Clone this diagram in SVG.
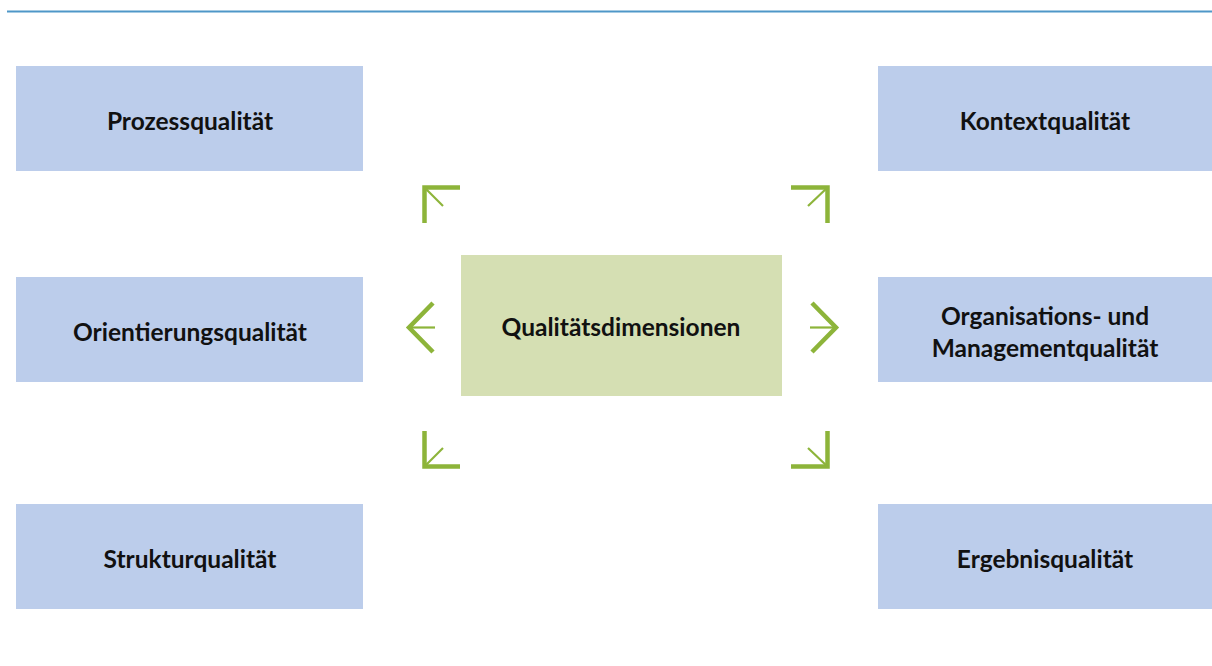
<svg xmlns="http://www.w3.org/2000/svg" width="1212" height="666" viewBox="0 0 1212 666">
<style>
.box{fill:#bccdeb}
.center{fill:#d5dfb3}
.t{font-family:Lato,"Liberation Sans",sans-serif;font-weight:bold;font-size:24.5px;fill:#111;text-anchor:middle}
.arm{fill:none;stroke:#8db43a;stroke-width:4.5;stroke-linecap:butt;stroke-linejoin:miter}
.thin{fill:none;stroke:#8db43a;stroke-width:2.2}
</style>
<rect width="1212" height="666" fill="#fff"/>
<line x1="7" y1="11.5" x2="1212" y2="11.5" stroke="#4f97c8" stroke-width="2"/>
<g id="n-prozess"><rect class="box" x="16" y="66" width="347" height="105"/><text class="t" x="190" y="129.5">Prozessqualität</text></g>
<g id="n-orientierung"><rect class="box" x="16" y="277" width="347" height="105"/><text class="t" x="190" y="340.5">Orientierungsqualität</text></g>
<g id="n-struktur"><rect class="box" x="16" y="504" width="347" height="105"/><text class="t" x="190" y="567.5">Strukturqualität</text></g>
<g id="n-kontext"><rect class="box" x="878" y="66" width="334" height="105"/><text class="t" x="1045" y="129.5">Kontextqualität</text></g>
<g id="n-organisation"><rect class="box" x="878" y="277" width="334" height="105"/><text class="t" x="1045" y="324.5">Organisations- und</text><text class="t" x="1045" y="356.5">Managementqualität</text></g>
<g id="n-ergebnis"><rect class="box" x="878" y="504" width="334" height="105"/><text class="t" x="1045" y="567.5">Ergebnisqualität</text></g>
<g id="n-center"><rect class="center" x="461" y="255" width="321" height="141"/><text class="t" x="621" y="335.5">Qualitätsdimensionen</text></g>
<g id="connectors">
<path class="arm" d="M460,187.5 H424.5 V223"/><path class="thin" d="M424.5,187.5 L443,206"/>
<path class="arm" d="M791,187.5 H827.5 V223"/><path class="thin" d="M827.5,187.5 L808,206"/>
<path class="arm" d="M433,303 L409,327.5 L433,352"/><path class="thin" d="M409,327.5 H435"/>
<path class="arm" d="M812,303 L836,327.5 L812,352"/><path class="thin" d="M836,327.5 H810"/>
<path class="arm" d="M424.5,431 V466.5 H460"/><path class="thin" d="M424.5,466.5 L443,448"/>
<path class="arm" d="M827.5,431 V466.5 H791"/><path class="thin" d="M827.5,466.5 L808,448"/>
</g>
</svg>
